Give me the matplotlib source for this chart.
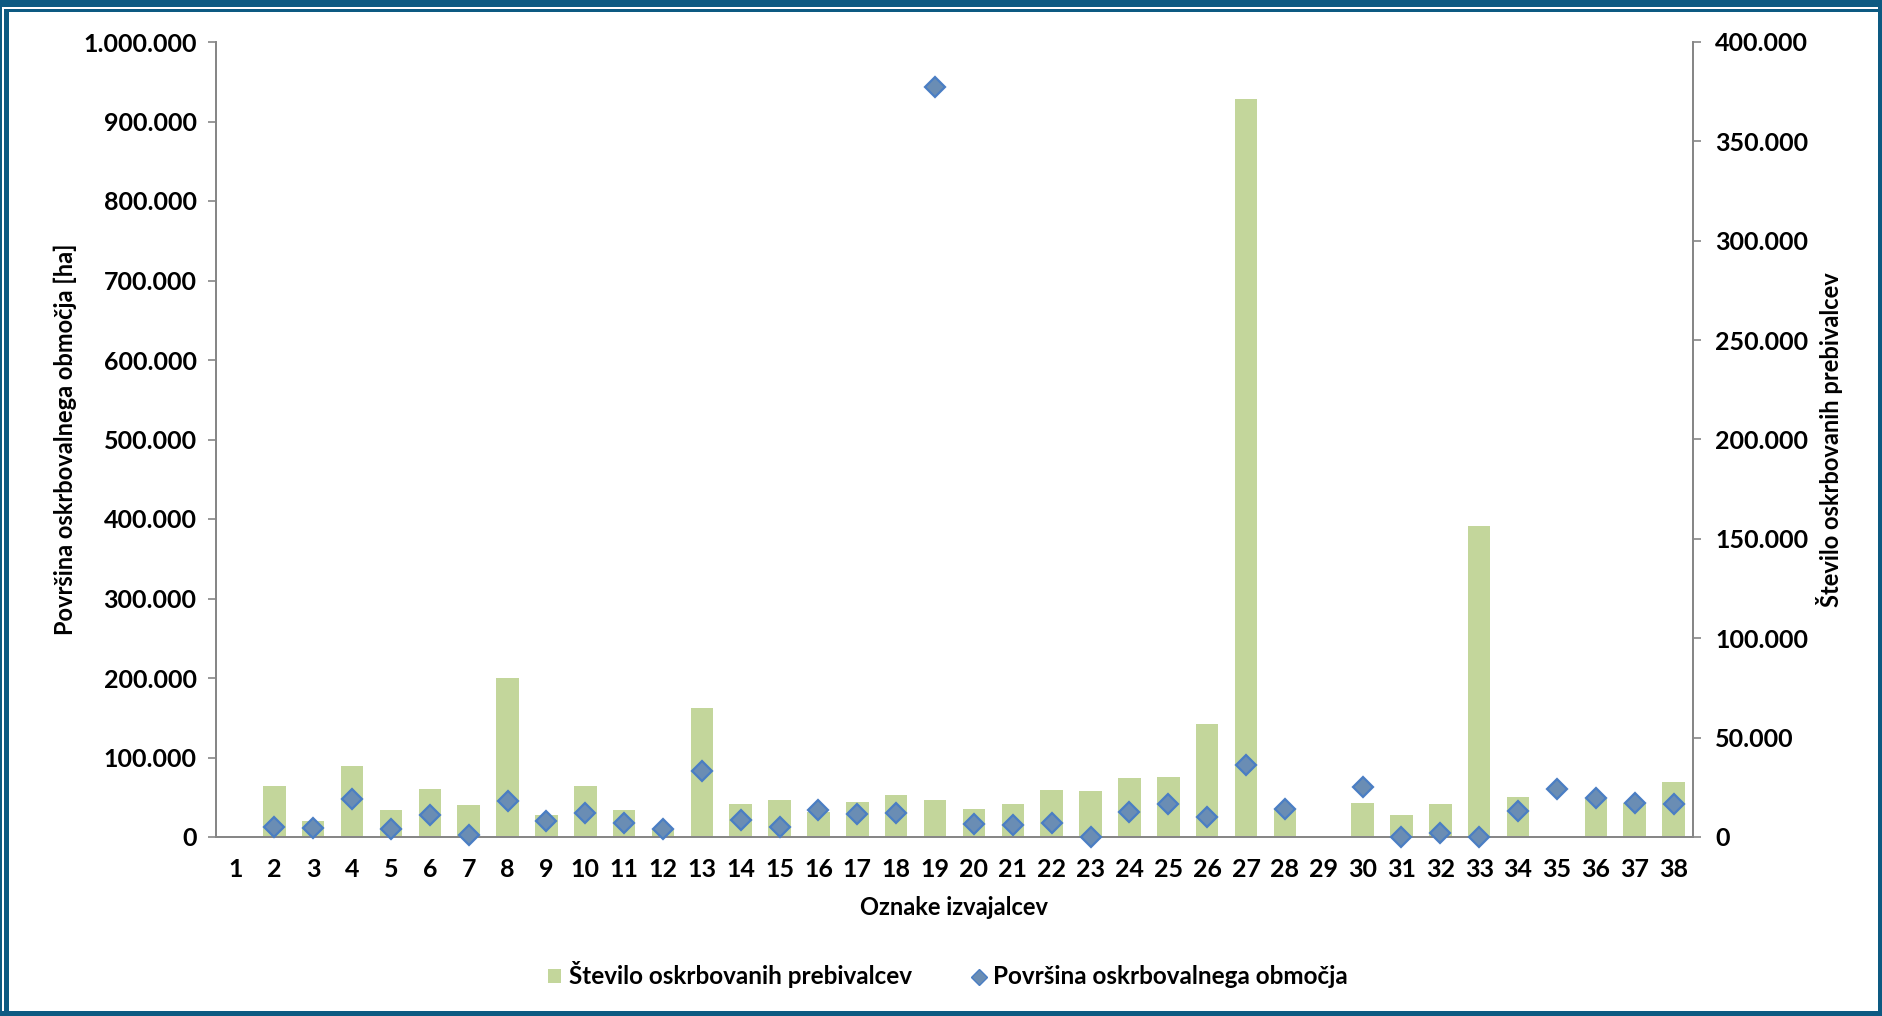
import matplotlib
matplotlib.use("Agg")
import matplotlib.pyplot as plt
import numpy as np
from matplotlib import font_manager
from matplotlib.ticker import FuncFormatter, MultipleLocator
from matplotlib.patches import Rectangle
from matplotlib.lines import Line2D

# oznake izvajalcev (x categories)
oznake = ["1", "2", "3", "4", "5", "6", "7", "8", "9", "10",
          "11", "12", "13", "14", "15", "16", "17", "18", "19", "20",
          "21", "22", "23", "24", "25", "26", "27", "28", "29", "30",
          "31", "32", "33", "34", "35", "36", "37", "38"]

# stevilo oskrbovanih prebivalcev (bars, right axis)
prebivalci = [0, 25500, 8000, 35700, 13400, 24300, 15900, 80200, 11000, 25500,
              13400, 4200, 64700, 16400, 18800, 12400, 17600, 21300, 18800, 13900,
              16400, 23600, 23000, 29700, 30300, 56800, 371400, 13900, 0, 16900,
              11000, 16400, 156700, 20000, 0, 19300, 16900, 27900]

# povrsina oskrbovalnega obmocja [ha] (diamonds, left axis)
povrsina = [np.nan, 12200, 11300, 47400, 9700, 27300, 2900, 45800, 20200, 30200,
            17400, 9500, 83500, 21400, 12600, 33600, 28600, 29800, 944000, 16000,
            15500, 17200, 500, 31900, 41600, 24800, 90700, 35700, np.nan, 63000,
            500, 5500, 300, 32300, 61000, 48900, 42800, 41300]

W, H = 1883, 1016
FRAME = "#0d5a82"
GREEN = "#c3d69b"
GREY = "#868686"
TICK_FS = 18
LABEL_FS = 17
LEGEND_FS = 17.5


def pick_bold_family(candidates):   # first family that really has a bold face
    for fam in candidates:
        for f in font_manager.fontManager.ttflist:
            if f.name == fam and isinstance(f.weight, int) and f.weight >= 700:
                return fam
            if f.name == fam and f.weight in ("bold", "heavy", "black"):
                return fam
    return "DejaVu Sans"


FAMILY = pick_bold_family(["Lato", "Open Sans", "Noto Sans", "Liberation Sans"])
plt.rcParams["font.family"] = [FAMILY, "DejaVu Sans"]
plt.rcParams["font.weight"] = "bold"
plt.rcParams["axes.labelweight"] = "bold"


def thousands(v, pos):
    return f"{int(round(v)):,}".replace(",", ".")


def frame_rect(fig, x, y, w, h):    # rectangle given in pixels from top-left
    fig.add_artist(Rectangle((x / W, 1 - (y + h) / H), w / W, h / H,
                             transform=fig.transFigure, facecolor=FRAME,
                             edgecolor="none", zorder=10))


fig = plt.figure(figsize=(W / 100, H / 100), dpi=100)
fig.patch.set_facecolor("white")

ax = fig.add_axes([216 / W, 1 - 837 / H, (1693 - 216) / W, (837 - 42) / H])
ax2 = ax.twinx()
ax.set_zorder(ax2.get_zorder() + 1)
ax.patch.set_visible(False)

x = np.arange(1, len(oznake) + 1)
ax2.bar(x, prebivalci, width=0.58, color=GREEN, zorder=2)
ax.plot(x, povrsina, linestyle="none", marker="D", markersize=10.5,
        markerfacecolor="#6a8db4", markeredgecolor="#4a7ec4",
        markeredgewidth=1.6, clip_on=False, zorder=3)

ax.set_xlim(0.5, len(oznake) + 0.5)
ax.set_ylim(0, 1000000)
ax2.set_ylim(0, 400000)
ax.yaxis.set_major_locator(MultipleLocator(100000))
ax2.yaxis.set_major_locator(MultipleLocator(50000))
ax.yaxis.set_major_formatter(FuncFormatter(thousands))
ax2.yaxis.set_major_formatter(FuncFormatter(thousands))

ax.set_xticks(x)
ax.set_xticklabels(oznake)
ax.tick_params(axis="x", length=0, pad=15, labelsize=TICK_FS)
ax.tick_params(axis="y", length=6, width=1.2, color=GREY, pad=8, labelsize=TICK_FS)
ax2.tick_params(axis="y", length=6, width=1.2, color=GREY, pad=10, labelsize=TICK_FS)

for a in (ax, ax2):
    a.spines["top"].set_visible(False)
    for s in ("left", "right", "bottom"):
        a.spines[s].set_color(GREY)
        a.spines[s].set_linewidth(1.3)

ax.set_xlabel("Oznake izvajalcev", fontsize=LABEL_FS, fontweight="bold", labelpad=11)
ax.set_ylabel("Površina oskrbovalnega območja [ha]", fontsize=LABEL_FS, fontweight="bold")
ax.yaxis.set_label_coords(-0.094, 0.5)
ax2.set_ylabel("Število oskrbovanih prebivalcev", fontsize=LABEL_FS, fontweight="bold",
               rotation=90)
ax2.yaxis.set_label_coords(1.083, 0.5)

handles = [Rectangle((0, 0), 1, 1, facecolor=GREEN, edgecolor="none"),
           Line2D([], [], linestyle="none", marker="D", markersize=8,
                  markerfacecolor="#6a8db4", markeredgecolor="#4a7ec4")]
fig.legend(handles, ["Število oskrbovanih prebivalcev", "Površina oskrbovalnega območja"],
           loc="center", bbox_to_anchor=(948 / W, 1 - 975 / H), ncol=2,
           frameon=False, prop={"size": LEGEND_FS, "weight": "bold"},
           columnspacing=2.5, handlelength=0.55, handleheight=0.55, handletextpad=0.3)

# outer frame
frame_rect(fig, 0, 0, W, 7)
frame_rect(fig, 4, 9, W - 4, 3)
frame_rect(fig, 0, 0, 2, H)
frame_rect(fig, 4, 9, 5, H - 9)
frame_rect(fig, W - 5, 0, 5, H)
frame_rect(fig, 0, H - 5, W, 5)

fig.savefig("out.png", dpi=100, facecolor="white")
